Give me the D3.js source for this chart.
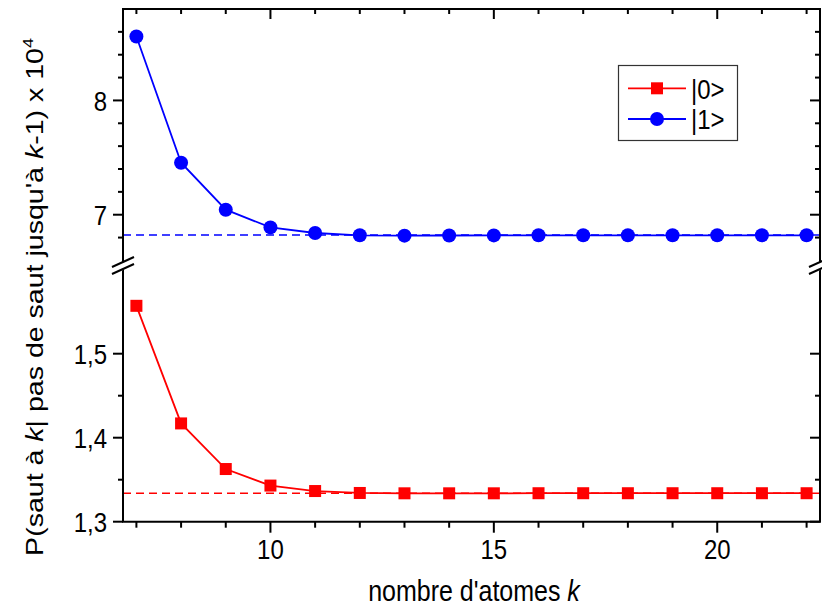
<!DOCTYPE html>
<html><head><meta charset="utf-8">
<script src="https://cdn.jsdelivr.net/npm/d3@7"></script>
<style>body{margin:0;background:#fff}svg{display:block}text{font-family:"Liberation Sans",Arial,sans-serif;fill:#000}</style>
</head><body><svg id="c" width="822" height="608"></svg>
<script>
const kValues = [7,8,9,10,11,12,13,14,15,16,17,18,19,20,21,22];
const state0 = [1.557,1.417,1.3627,1.343,1.3365,1.3342,1.3338,1.3338,1.3338,1.3339,1.3339,1.3339,1.3339,1.3339,1.3339,1.3339];
const state1 = [8.56,7.455,7.044,6.889,6.84,6.82,6.817,6.818,6.819,6.82,6.82,6.82,6.82,6.82,6.82,6.82];
const asymptote0 = 1.3338;
const asymptote1 = 6.823;
const xTicks = [10,15,20];
const upperTicks = [7,8];
const lowerTicks = [1.3,1.4,1.5];
const upperMinor = [6.8,7.2,7.4,7.6,7.8,8.2,8.4,8.6];
const lowerMinor = [1.35,1.45];
const seriesNames = ["|0>","|1>"];

const svg = d3.select("#c");
const L=123, R=820, T=9, B=521.7, BRK=265;
const SY = 1.19; // vertical stretch of the glyphs
const x = d3.scaleLinear().domain([6.7,22.3]).range([L,R]);
const yU = d3.scaleLinear().domain([6.56,8.8]).range([BRK,T]);
const yL = d3.scaleLinear().domain([1.3,1.6]).range([B,B-0.3*840]);
const fs = 24;

function htext(px, py, anchor, size){
  return svg.append("text").attr("transform",`translate(${px},${py}) scale(1,${SY})`)
    .attr("text-anchor",anchor).attr("font-size",size);
}

// dashed asymptotes
svg.append("line").attr("x1",L).attr("x2",R).attr("y1",yU(asymptote1)).attr("y2",yU(asymptote1))
  .attr("stroke","#0000ff").attr("stroke-width",1.6).attr("stroke-dasharray","8,5");
svg.append("line").attr("x1",L).attr("x2",R).attr("y1",yL(asymptote0)).attr("y2",yL(asymptote0))
  .attr("stroke","#ff0000").attr("stroke-width",1.6).attr("stroke-dasharray","8,5");

// series lines
const d1 = kValues.map((k,i)=>[k,state1[i]]);
const d0 = kValues.map((k,i)=>[k,state0[i]]);
svg.append("path").attr("d",d3.line().x(d=>x(d[0])).y(d=>yU(d[1]))(d1))
  .attr("fill","none").attr("stroke","#0000ff").attr("stroke-width",1.8);
svg.append("path").attr("d",d3.line().x(d=>x(d[0])).y(d=>yL(d[1]))(d0))
  .attr("fill","none").attr("stroke","#ff0000").attr("stroke-width",1.8);
svg.selectAll(".pt1").data(d1).enter().append("circle")
  .attr("cx",d=>x(d[0])).attr("cy",d=>yU(d[1])).attr("r",7).attr("fill","#0000ff");
svg.selectAll(".pt0").data(d0).enter().append("rect")
  .attr("x",d=>x(d[0])-6).attr("y",d=>yL(d[1])-6).attr("width",12).attr("height",12).attr("fill","#ff0000");

// axes frame
const ax = svg.append("g").attr("stroke","#000").attr("stroke-width",2);
ax.append("line").attr("x1",L-1).attr("x2",R+1).attr("y1",T).attr("y2",T);
ax.append("line").attr("x1",L-1).attr("x2",R+1).attr("y1",B).attr("y2",B);
ax.append("line").attr("x1",L).attr("x2",L).attr("y1",T).attr("y2",B);
ax.append("line").attr("x1",R).attr("x2",R).attr("y1",T).attr("y2",B);

// x ticks
const xAll = d3.range(7,23);
xAll.forEach(v=>{
  const major = xTicks.includes(v);
  ax.append("line").attr("x1",x(v)).attr("x2",x(v)).attr("y1",B).attr("y2",B+(major?11:6));
  ax.append("line").attr("x1",x(v)).attr("x2",x(v)).attr("y1",T).attr("y2",T+(major?10:5));
});
xTicks.forEach(v=>{ htext(x(v),559,"middle",fs).text(v); });

// y ticks
function yt(scale, majors, minors, fmt){
  majors.forEach(v=>{
    ax.append("line").attr("x1",L-10).attr("x2",L).attr("y1",scale(v)).attr("y2",scale(v));
    ax.append("line").attr("x1",R-10).attr("x2",R).attr("y1",scale(v)).attr("y2",scale(v));
    htext(107,scale(v),"end",fs).attr("dy","0.36em").text(fmt(v));
  });
  minors.forEach(v=>{
    ax.append("line").attr("x1",L-5).attr("x2",L).attr("y1",scale(v)).attr("y2",scale(v));
    ax.append("line").attr("x1",R-5).attr("x2",R).attr("y1",scale(v)).attr("y2",scale(v));
  });
}
yt(yU, upperTicks, upperMinor, v=>d3.format("d")(v));
yt(yL, lowerTicks, lowerMinor, v=>d3.format(".1f")(v).replace(".",","));

// break marks
[L,R].forEach(cx=>{
  svg.append("polygon").attr("points",`${cx-4},${BRK-1} ${cx+4},${BRK-5} ${cx+4},${BRK+3} ${cx-4},${BRK+7}`).attr("fill","#fff");
  svg.append("line").attr("x1",cx-11).attr("y1",BRK+2).attr("x2",cx+11).attr("y2",BRK-8).attr("stroke","#000").attr("stroke-width",2);
  svg.append("line").attr("x1",cx-11).attr("y1",BRK+9).attr("x2",cx+11).attr("y2",BRK-1).attr("stroke","#000").attr("stroke-width",2);
});

// axis titles
const xt = htext(474,601,"middle",25);
xt.append("tspan").text("nombre d'atomes ");
xt.append("tspan").attr("font-style","italic").text("k");

const ytl = svg.append("text").attr("transform",`translate(43,297) rotate(-90) scale(${SY},1)`).attr("text-anchor","middle").attr("font-size",fs);
ytl.append("tspan").text("P(saut à ");
ytl.append("tspan").attr("font-style","italic").text("k");
ytl.append("tspan").text("| pas de saut jusqu'à ");
ytl.append("tspan").attr("font-style","italic").text("k");
ytl.append("tspan").text("-1) x 10");
ytl.append("tspan").attr("font-size",15).attr("dy",-10).text("4");

// legend
const lg = svg.append("g");
lg.append("rect").attr("x",618.5).attr("y",65.5).attr("width",119).attr("height",75)
  .attr("fill","#fff").attr("stroke","#333").attr("stroke-width",1.2);
const legY = [88.3,119];
const legC = ["#ff0000","#0000ff"];
seriesNames.forEach((n,i)=>{
  lg.append("line").attr("x1",628).attr("x2",686).attr("y1",legY[i]).attr("y2",legY[i]).attr("stroke",legC[i]).attr("stroke-width",1.8);
  if(i===0) lg.append("rect").attr("x",651).attr("y",legY[i]-6).attr("width",12).attr("height",12).attr("fill",legC[i]);
  else lg.append("circle").attr("cx",657).attr("cy",legY[i]).attr("r",7).attr("fill",legC[i]);
  svg.append("text").attr("transform",`translate(691,${legY[i]}) scale(1,${SY})`).attr("dy","0.36em").attr("font-size",fs).text(n);
});
</script></body></html>
